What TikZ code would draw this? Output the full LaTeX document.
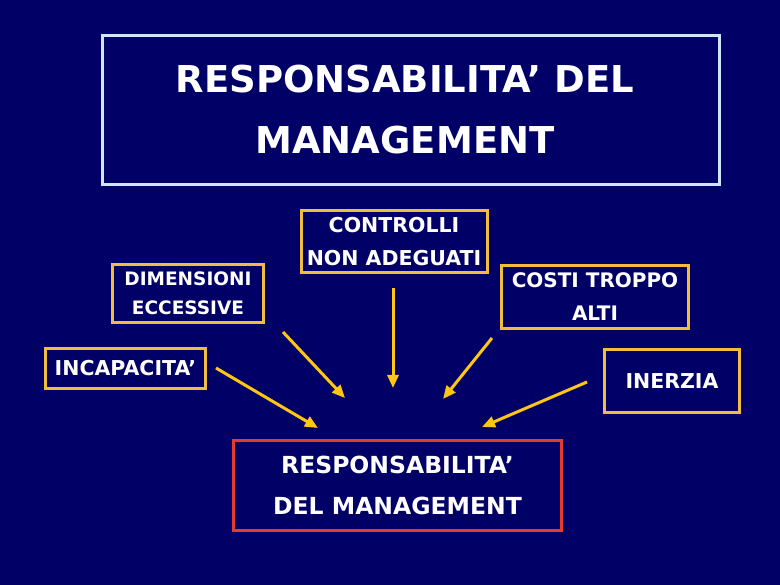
\documentclass[tikz,border=0pt]{standalone}
\usepackage{fontspec}
\setmainfont{DejaVu Sans}
\usetikzlibrary{arrows.meta}
\definecolor{navy}{RGB}{0,0,102}
\definecolor{titleframe}{RGB}{205,230,255}
\definecolor{boxframe}{RGB}{240,190,60}
\definecolor{redframe}{RGB}{225,60,45}
\definecolor{arrowyellow}{RGB}{255,198,20}
\tikzset{
  ybox/.style={draw=boxframe, line width=3pt, fill=navy, text=white, align=center, inner sep=0pt},
  arr/.style={draw=arrowyellow, line width=3pt, -{Triangle[length=13pt,width=11pt]}},
  titletext/.style={align=center, font=\bfseries\fontsize{37}{61}\selectfont}
}
\begin{document}
\begin{tikzpicture}[x=1pt,y=-1pt]
\useasboundingbox (0,0) rectangle (780,585);
\fill[navy] (0,0) rectangle (780,585);
% title box
\node[draw=titleframe, line width=2.5pt, minimum width=617pt, minimum height=149pt, inner sep=0pt] (title) at (411,110) {};
\node[titletext, text=white] (titletxt) at (405,110) {RESPONSABILITA’ DEL\\MANAGEMENT};
% boxes
\node[ybox, minimum width=186pt, minimum height=62pt, font=\bfseries\fontsize{20.5}{33}\selectfont] (ctrl) at (394,242) {CONTROLLI\\NON ADEGUATI};
\node[ybox, minimum width=151pt, minimum height=58pt, font=\bfseries\fontsize{18.5}{29}\selectfont] (dim) at (188,293.5) {DIMENSIONI\\ECCESSIVE};
\node[ybox, minimum width=160pt, minimum height=40pt, font=\bfseries\fontsize{20.5}{24}\selectfont] (inc) at (125.5,368.5) {INCAPACITA’};
\node[ybox, minimum width=187pt, minimum height=63pt, font=\bfseries\fontsize{20}{33}\selectfont] (costi) at (595,297) {COSTI TROPPO\\ALTI};
\node[ybox, minimum width=135pt, minimum height=63pt, font=\bfseries\fontsize{20.5}{24}\selectfont] (inerzia) at (672,381) {INERZIA};
\node[draw=redframe, line width=3pt, fill=navy, text=white, align=center, inner sep=0pt, minimum width=328pt, minimum height=89pt, font=\bfseries\fontsize{23.5}{41}\selectfont] (resp) at (397.5,485.5) {RESPONSABILITA’\\DEL MANAGEMENT};
% arrow end points
\coordinate (dimS) at (283,332);
\coordinate (dimE) at (345,398);
\coordinate (ctrlS) at (393,288);
\coordinate (ctrlE) at (393,388);
\coordinate (costiS) at (492,338);
\coordinate (costiE) at (443,399);
\coordinate (inerS) at (587,382);
\coordinate (inerE) at (482,427);
\coordinate (incS) at (216,368);
\coordinate (incE) at (318,428);
\draw[arr] (dimS) -- (dimE);
\draw[arr] (ctrlS) -- (ctrlE);
\draw[arr] (costiS) -- (costiE);
\draw[arr] (inerS) -- (inerE);
\draw[arr] (incS) -- (incE);
\end{tikzpicture}
\end{document}
